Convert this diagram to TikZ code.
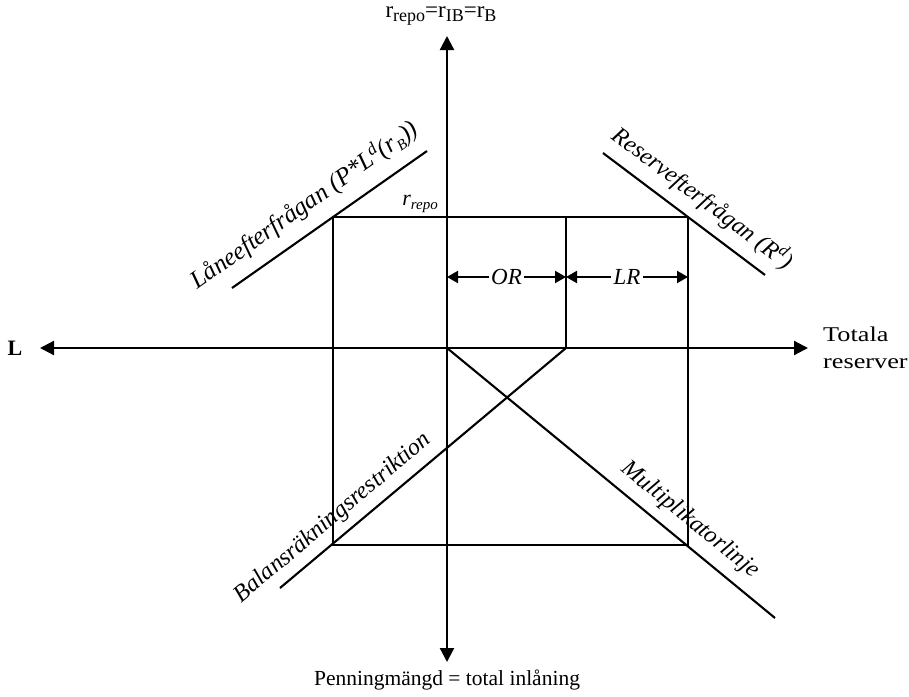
\documentclass[tikz,border=0pt]{standalone}
\usepackage{fontspec}
\setmainfont{Liberation Serif}
\newfontfamily\widefont[FakeStretch=1.25]{Liberation Serif}
\usetikzlibrary{arrows.meta}
\newcommand\lowsub[1]{\raisebox{-0.45ex}{\fontsize{18}{18}\selectfont #1}}
\newcommand\smsub[1]{\raisebox{-0.4ex}{\fontsize{15}{15}\selectfont #1}}
\begin{document}
\begin{tikzpicture}[x=1pt,y=-1pt,
  axis/.style={line width=2.2pt, {Triangle[width=14pt,length=14pt]}-{Triangle[width=14pt,length=14pt]}},
  boxline/.style={line width=2.5pt},
  curve/.style={line width=2.1pt},
  dimline/.style={line width=2pt, {Triangle[width=12pt,length=11pt]}-{Triangle[width=12pt,length=11pt]}},
  lbl/.style={font=\fontsize{21.5}{25}\selectfont, inner sep=0pt},
  ilbl/.style={font=\fontsize{24}{26}\selectfont\itshape, inner sep=0pt},
  dimlbl/.style={font=\fontsize{23}{25}\selectfont\itshape, fill=white, inner sep=2.5pt},
]
\useasboundingbox (0,0) rectangle (909,696);
% key points
\coordinate (O) at (447,348);
\coordinate (Ytop) at (447,36);
\coordinate (Ybot) at (447,662);
\coordinate (Xl) at (40,348);
\coordinate (Xr) at (808,348);
\coordinate (A) at (333,217);
\coordinate (B) at (688,217);
\coordinate (C) at (688,545);
\coordinate (D) at (333,545);
\coordinate (M) at (566,217);
\coordinate (Mb) at (566,348);
\coordinate (L1) at (232,288);
\coordinate (L2) at (427,151);
\coordinate (R1) at (603,153);
\coordinate (R2) at (765,275);
\coordinate (Bend) at (280,588);
\coordinate (Mend) at (775,618);
\coordinate (d1) at (447,277);
\coordinate (d2) at (566,277);
\coordinate (d3) at (688,277);
% axes
\draw[axis] (Ybot) -- (Ytop);
\draw[axis] (Xl) -- (Xr);
% box
\draw[boxline] (A) -- (B) -- (C) -- (D) -- cycle;
\draw[boxline] (M) -- (Mb);
% curves
\draw[curve] (L1) -- (L2);
\draw[curve] (R1) -- (R2);
\draw[curve] (Mb) -- (Bend);
\draw[curve] (O) -- (Mend);
% dimension arrows
\draw[dimline] (d1) -- node[dimlbl] (tOR) {OR} (d2);
\draw[dimline] (d2) -- node[dimlbl] (tLR) {LR} (d3);
% labels
\node[lbl, font=\fontsize{23}{25}\selectfont] (ttop) at (441,16) {r\lowsub{repo}=r\lowsub{IB}=r\lowsub{B}};
\node[lbl, font=\fontsize{22}{25}\selectfont\bfseries] (tL) at (15,348) {L};
\node[lbl, align=left, anchor=west, font=\fontsize{21}{27}\selectfont\widefont] (tR) at (823,348) {Totala\\reserver};
\node[lbl] (tbot) at (447,680) {Penningmängd = total inlåning};
\node[ilbl, font=\fontsize{22}{24}\selectfont\itshape] (trepo) at (420,204) {r\smsub{repo}};
\node[ilbl, font=\fontsize{25}{27}\selectfont\itshape, rotate=35.2] (tLD) at (304,205) {Låneefterfrågan (P*L\textsuperscript{d}(r\smsub{B}))};
\node[ilbl, rotate=-37] (tRD) at (703,198) {Reservefterfrågan (R\textsuperscript{d})};
\node[ilbl, rotate=40.3] (tBR) at (333,518) {Balansräkningsrestriktion};
\node[ilbl, rotate=-39.3] (tMU) at (690,520) {Multiplikatorlinje};
\end{tikzpicture}
\end{document}
